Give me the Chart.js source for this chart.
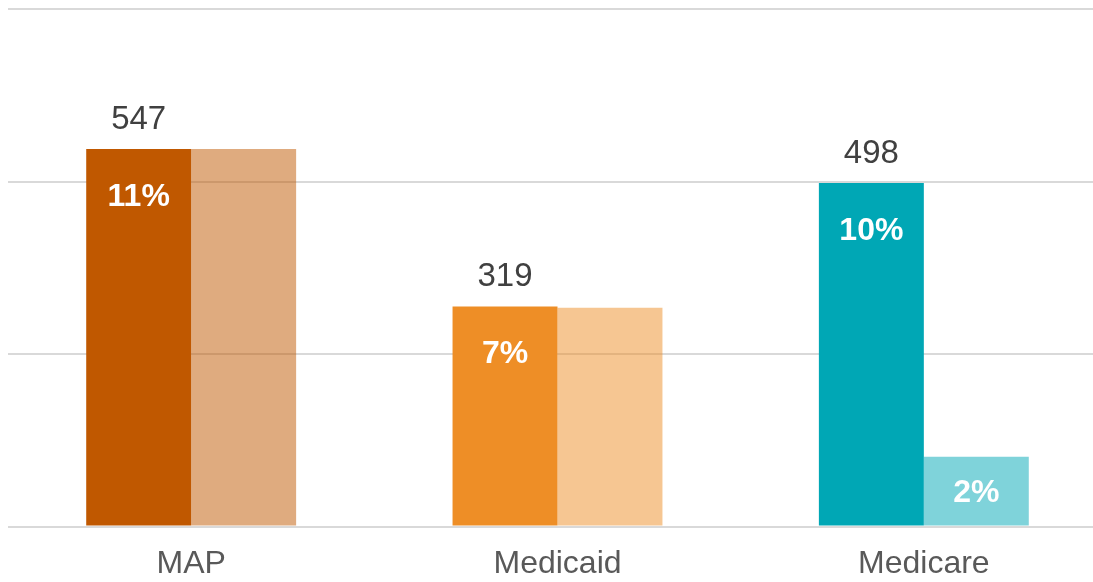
<!DOCTYPE html>
<html>
<head>
<meta charset="utf-8">
<script src="https://cdn.jsdelivr.net/npm/chart.js@4/dist/chart.umd.min.js"></script>
<style>
  html, body { margin: 0; padding: 0; background: #fff; overflow: hidden; }
  #wrap { width: 1110px; height: 582px; }
</style>
</head>
<body>
<div id="wrap"><canvas id="chart"></canvas></div>
<script>
// dados do gráfico
const categorias = ['MAP', 'Medicaid', 'Medicare'];
const valoresEscuros = [547, 319, 498];
const valoresClaros = [547, 317, 101];
const rotulosEscuros = ['547', '319', '498'];
const percentEscuros = ['11%', '7%', '10%'];
const percentClaros = ['', '', '2%'];
const ticksY = [0, 250, 500, 750];

const coresEscuras = ['#C05800', '#EE8E26', '#00A7B5'];
const coresClaras = ['rgba(192, 88, 0, 0.5)', 'rgba(238, 142, 38, 0.5)', 'rgba(0, 167, 181, 0.5)'];

const fonte = '"Liberation Sans", Arial, sans-serif';

const rotulosPlugin = {
  id: 'rotulos',
  afterDatasetsDraw(chart) {
    const ctx = chart.ctx;
    ctx.save();
    ctx.textAlign = 'center';
    ctx.textBaseline = 'middle';
    const escuro = chart.getDatasetMeta(0).data;
    const claro = chart.getDatasetMeta(1).data;
    escuro.forEach((bar, i) => {
      ctx.fillStyle = '#404040';
      ctx.font = '33px ' + fonte;
      ctx.fillText(rotulosEscuros[i], bar.x, bar.y - 29);
      ctx.fillStyle = '#ffffff';
      ctx.font = 'bold 32px ' + fonte;
      ctx.fillText(percentEscuros[i], bar.x, bar.y + 48);
    });
    claro.forEach((bar, i) => {
      if (!percentClaros[i]) return;
      ctx.fillStyle = '#ffffff';
      ctx.font = 'bold 32px ' + fonte;
      ctx.fillText(percentClaros[i], bar.x, bar.y + 36);
    });
    ctx.restore();
  }
};

var grafico = new Chart(document.getElementById('chart').getContext('2d'), {
  type: 'bar',
  data: {
    labels: categorias,
    datasets: [{
      label: 'Total',
      data: valoresEscuros,
      backgroundColor: coresEscuras,
      borderWidth: 0
    }, {
      label: 'Parcela',
      data: valoresClaros,
      backgroundColor: coresClaras,
      borderWidth: 0
    }]
  },
  options: {
    responsive: true,
    maintainAspectRatio: false,
    animation: false,
    layout: { padding: { top: 9, left: 8, right: 3, bottom: 0 } },
    datasets: {
      bar: { barPercentage: 1.0, categoryPercentage: 0.573 }
    },
    plugins: {
      legend: { display: false },
      tooltip: { enabled: false }
    },
    scales: {
      x: {
        grid: { display: false, drawTicks: false },
        border: { display: false },
        afterFit(axis) { axis.height = 55.5; },
        ticks: {
          color: '#595959',
          font: { size: 32, family: fonte, lineHeight: 1.0 },
          padding: 22
        }
      },
      y: {
        min: 0,
        max: 750,
        afterBuildTicks(axis) {
          axis.ticks = ticksY.map(v => ({ value: v }));
        },
        grid: { color: '#d9d9d9', lineWidth: 2, drawTicks: false },
        border: { display: false },
        ticks: { display: false }
      }
    }
  },
  plugins: [rotulosPlugin]
});
</script>
</body>
</html>
